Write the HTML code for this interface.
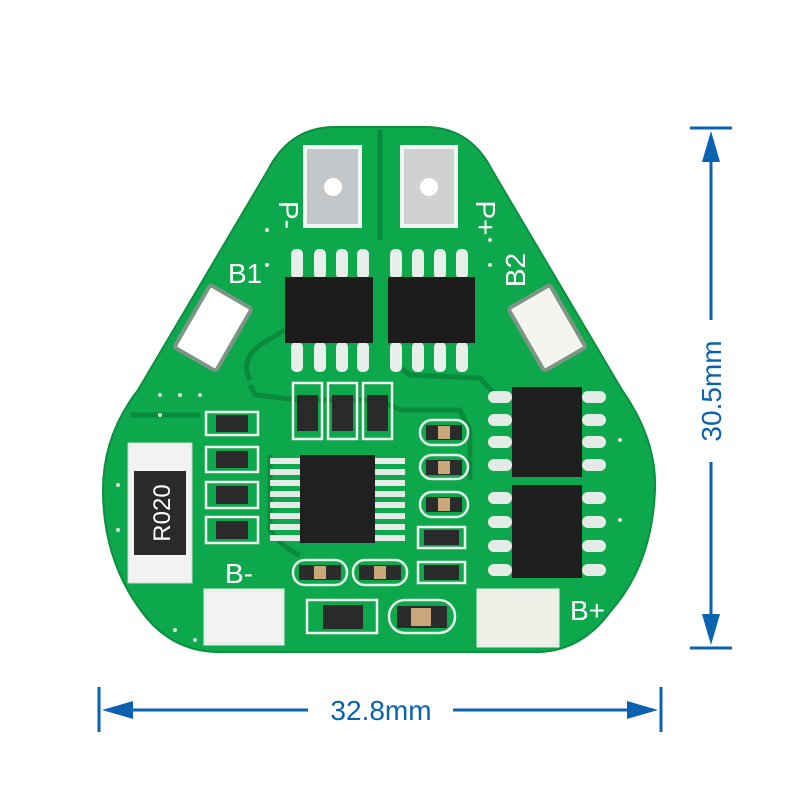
<!DOCTYPE html>
<html><head><meta charset="utf-8"><style>body{margin:0;background:#fff}svg{display:block}</style></head><body>
<svg width="800" height="800" viewBox="0 0 800 800" xmlns="http://www.w3.org/2000/svg" font-family="Liberation Sans, sans-serif">
<rect width="800" height="800" fill="#fff"/>
<!-- board -->
<path d="M335 127 L425 127 Q470 127 492 170 L622 390 Q657 440 655 490 Q652 565 610 612 Q582 650 540 652 L215 652 Q170 650 142 612 Q103 560 103 490 Q103 435 138 390 L268 170 Q290 127 335 127 Z" fill="#0ea84c" stroke="#0b8f40" stroke-width="2"/>
<!-- darker traces -->
<g stroke="#098a3c" stroke-width="5" fill="none">
<path d="M250 380 Q240 360 260 345 L285 330"/>
<path d="M250 385 L255 395 L300 400 L380 400 L400 410 L460 410 L470 430 L470 480"/>
<path d="M390 360 L410 375 L480 378 L500 400"/>
<path d="M270 455 L270 530 Q285 550 300 555"/>
<path d="M130 415 L200 415"/>
<path d="M380 130 L380 240"/>
</g>
<!-- top pads -->
<rect x="303" y="145" width="59" height="83" fill="#f2f7f3"/>
<rect x="307" y="149" width="51" height="75" fill="#c4c7ca"/>
<circle cx="333" cy="187" r="9" fill="#fff"/>
<rect x="400" y="145" width="58" height="83" fill="#f2f7f3"/>
<rect x="404" y="149" width="50" height="75" fill="#cfd1d3"/>
<circle cx="429" cy="187" r="9" fill="#fff"/>
<!-- side pads -->
<g transform="translate(213 328) rotate(30)"><rect x="-24" y="-36" width="48" height="72" fill="#fff" stroke="#7d9585" stroke-width="4" rx="3"/></g>
<g transform="translate(547 328) rotate(-30)"><rect x="-24" y="-36" width="48" height="72" fill="#f5f5f0" stroke="#7d9585" stroke-width="4" rx="3"/></g>
<!-- bottom pads -->
<rect x="205" y="590" width="78" height="54" fill="#f3f3f3" stroke="#e6eee8" stroke-width="3"/>
<rect x="478" y="590" width="80" height="56" fill="#f0efe8" stroke="#e6eee8" stroke-width="3"/>
<!-- top SOICs -->
<g fill="#e8eee9">
<rect x="291" y="249" width="12" height="30" rx="5"/><rect x="314" y="249" width="12" height="30" rx="5"/><rect x="336" y="249" width="12" height="30" rx="5"/><rect x="357" y="249" width="12" height="30" rx="5"/>
<rect x="291" y="342" width="12" height="30" rx="5"/><rect x="314" y="342" width="12" height="30" rx="5"/><rect x="336" y="342" width="12" height="30" rx="5"/><rect x="357" y="342" width="12" height="30" rx="5"/>
<rect x="390" y="249" width="12" height="30" rx="5"/><rect x="412" y="249" width="12" height="30" rx="5"/><rect x="434" y="249" width="12" height="30" rx="5"/><rect x="456" y="249" width="12" height="30" rx="5"/>
<rect x="390" y="342" width="12" height="30" rx="5"/><rect x="412" y="342" width="12" height="30" rx="5"/><rect x="434" y="342" width="12" height="30" rx="5"/><rect x="456" y="342" width="12" height="30" rx="5"/>
</g>
<rect x="285" y="277" width="88" height="66" fill="#1c1c1c"/>
<rect x="388" y="277" width="87" height="66" fill="#1c1c1c"/>
<!-- center IC pins -->
<g fill="#e4ebe6">
<rect x="270" y="458" width="30" height="6"/><rect x="270" y="469" width="30" height="6"/><rect x="270" y="480" width="30" height="6"/><rect x="270" y="491" width="30" height="6"/><rect x="270" y="502" width="30" height="6"/><rect x="270" y="513" width="30" height="6"/><rect x="270" y="524" width="30" height="6"/><rect x="270" y="535" width="30" height="6"/>
<rect x="375" y="458" width="30" height="6"/><rect x="375" y="469" width="30" height="6"/><rect x="375" y="480" width="30" height="6"/><rect x="375" y="491" width="30" height="6"/><rect x="375" y="502" width="30" height="6"/><rect x="375" y="513" width="30" height="6"/><rect x="375" y="524" width="30" height="6"/><rect x="375" y="535" width="30" height="6"/>
</g>
<rect x="300" y="455" width="75" height="88" fill="#202020"/>
<!-- right ICs -->
<g fill="#e4ebe6">
<rect x="488" y="391" width="24" height="12" rx="6"/><rect x="488" y="414" width="24" height="12" rx="6"/><rect x="488" y="436" width="24" height="12" rx="6"/><rect x="488" y="459" width="24" height="12" rx="6"/>
<rect x="582" y="391" width="24" height="12" rx="6"/><rect x="582" y="414" width="24" height="12" rx="6"/><rect x="582" y="436" width="24" height="12" rx="6"/><rect x="582" y="459" width="24" height="12" rx="6"/>
<rect x="488" y="492" width="24" height="12" rx="6"/><rect x="488" y="516" width="24" height="12" rx="6"/><rect x="488" y="540" width="24" height="12" rx="6"/><rect x="488" y="564" width="24" height="12" rx="6"/>
<rect x="582" y="492" width="24" height="12" rx="6"/><rect x="582" y="516" width="24" height="12" rx="6"/><rect x="582" y="540" width="24" height="12" rx="6"/><rect x="582" y="564" width="24" height="12" rx="6"/>
</g>
<rect x="512" y="387" width="70" height="90" fill="#1f1f1f"/>
<rect x="512" y="485" width="70" height="93" fill="#1f1f1f"/>
<!-- big resistor -->
<rect x="128" y="443" width="64" height="140" fill="#f2f2f2" stroke="#cfd6d1"/>
<rect x="134" y="471" width="52" height="84" fill="#2a2a2a"/>
<text transform="translate(170 513) rotate(-90)" text-anchor="middle" fill="#fff" font-size="24">R020</text>
<!-- small resistors -->
<g fill="none" stroke="#f0f0f0" stroke-width="2.5">
<rect x="206" y="412" width="52" height="23"/><rect x="206" y="447" width="52" height="25"/><rect x="206" y="482" width="52" height="26"/><rect x="206" y="517" width="52" height="26"/>
<rect x="293" y="383" width="29" height="56"/><rect x="328" y="383" width="29" height="56"/><rect x="363" y="383" width="29" height="56"/>
<rect x="418" y="527" width="47" height="21"/><rect x="418" y="562" width="47" height="21"/>
<rect x="307" y="600" width="70" height="33"/>
</g>
<g fill="#2a2a2a">
<rect x="216" y="415" width="32" height="17"/><rect x="216" y="451" width="32" height="17"/><rect x="216" y="486" width="32" height="18"/><rect x="216" y="521" width="32" height="18"/>
<rect x="297" y="395" width="21" height="36"/><rect x="332" y="395" width="21" height="36"/><rect x="367" y="395" width="21" height="36"/>
<rect x="424" y="530" width="35" height="15"/><rect x="424" y="565" width="35" height="15"/>
<rect x="323" y="605" width="40" height="24"/>
</g>
<!-- capacitors -->
<g fill="none" stroke="#e7f0ea" stroke-width="2.5">
<rect x="420" y="420" width="48" height="25" rx="12"/><rect x="420" y="455" width="48" height="24" rx="12"/><rect x="420" y="492" width="48" height="25" rx="12"/>
<rect x="293" y="560" width="54" height="25" rx="12"/><rect x="353" y="560" width="54" height="25" rx="12"/>
<rect x="389" y="600" width="66" height="33" rx="16"/>
</g>
<g fill="#2c2c2c"><rect x="426" y="425" width="36" height="15"/><rect x="426" y="460" width="36" height="15"/><rect x="426" y="497" width="36" height="15"/><rect x="299" y="565" width="42" height="15"/><rect x="359" y="565" width="42" height="15"/><rect x="397" y="606" width="50" height="22"/></g>
<g fill="#c9a77a"><rect x="438" y="426" width="12" height="13"/><rect x="438" y="461" width="12" height="13"/><rect x="438" y="498" width="12" height="13"/><rect x="314" y="566" width="12" height="13"/><rect x="374" y="566" width="12" height="13"/><rect x="411" y="608" width="20" height="18"/></g>
<!-- vias -->
<g fill="#d8efe0"><circle cx="160" cy="395" r="2"/><circle cx="180" cy="395" r="2"/><circle cx="200" cy="395" r="2"/><circle cx="160" cy="415" r="2"/><circle cx="118" cy="485" r="2"/><circle cx="118" cy="530" r="2"/><circle cx="175" cy="630" r="2"/><circle cx="195" cy="640" r="2"/><circle cx="267" cy="230" r="2"/><circle cx="267" cy="265" r="2"/><circle cx="490" cy="240" r="2"/><circle cx="490" cy="265" r="2"/><circle cx="620" cy="440" r="2"/><circle cx="620" cy="520" r="2"/></g>
<!-- silkscreen labels -->
<g fill="#fff" font-size="28">
<text x="228" y="283">B1</text>
<text transform="translate(525 270) rotate(-90)" text-anchor="middle">B2</text>
<text x="225" y="583">B-</text>
<text x="570" y="620">B+</text>
<text transform="translate(279 215) rotate(90)" text-anchor="middle">P-</text>
<text transform="translate(476 218) rotate(90)" text-anchor="middle">P+</text>
</g>
<!-- dimensions -->
<g stroke="#0a62b0" stroke-width="3" fill="#0a62b0">
<line x1="99" y1="687" x2="99" y2="732"/><line x1="661" y1="687" x2="661" y2="732"/>
<line x1="110" y1="710" x2="308" y2="710"/><line x1="453" y1="710" x2="650" y2="710"/>
<polygon points="102,710 133,701 133,719" stroke="none"/><polygon points="658,710 627,701 627,719" stroke="none"/>
<line x1="690" y1="128" x2="732" y2="128"/><line x1="690" y1="648" x2="732" y2="648"/>
<line x1="711" y1="140" x2="711" y2="320"/><line x1="711" y1="462" x2="711" y2="636"/>
<polygon points="711,131 702,162 720,162" stroke="none"/><polygon points="711,645 702,614 720,614" stroke="none"/>
</g>
<text x="381" y="720" text-anchor="middle" fill="#0a62b0" font-size="28">32.8mm</text>
<text transform="translate(721 391) rotate(-90)" text-anchor="middle" fill="#0a62b0" font-size="28">30.5mm</text>
</svg>
</body></html>
